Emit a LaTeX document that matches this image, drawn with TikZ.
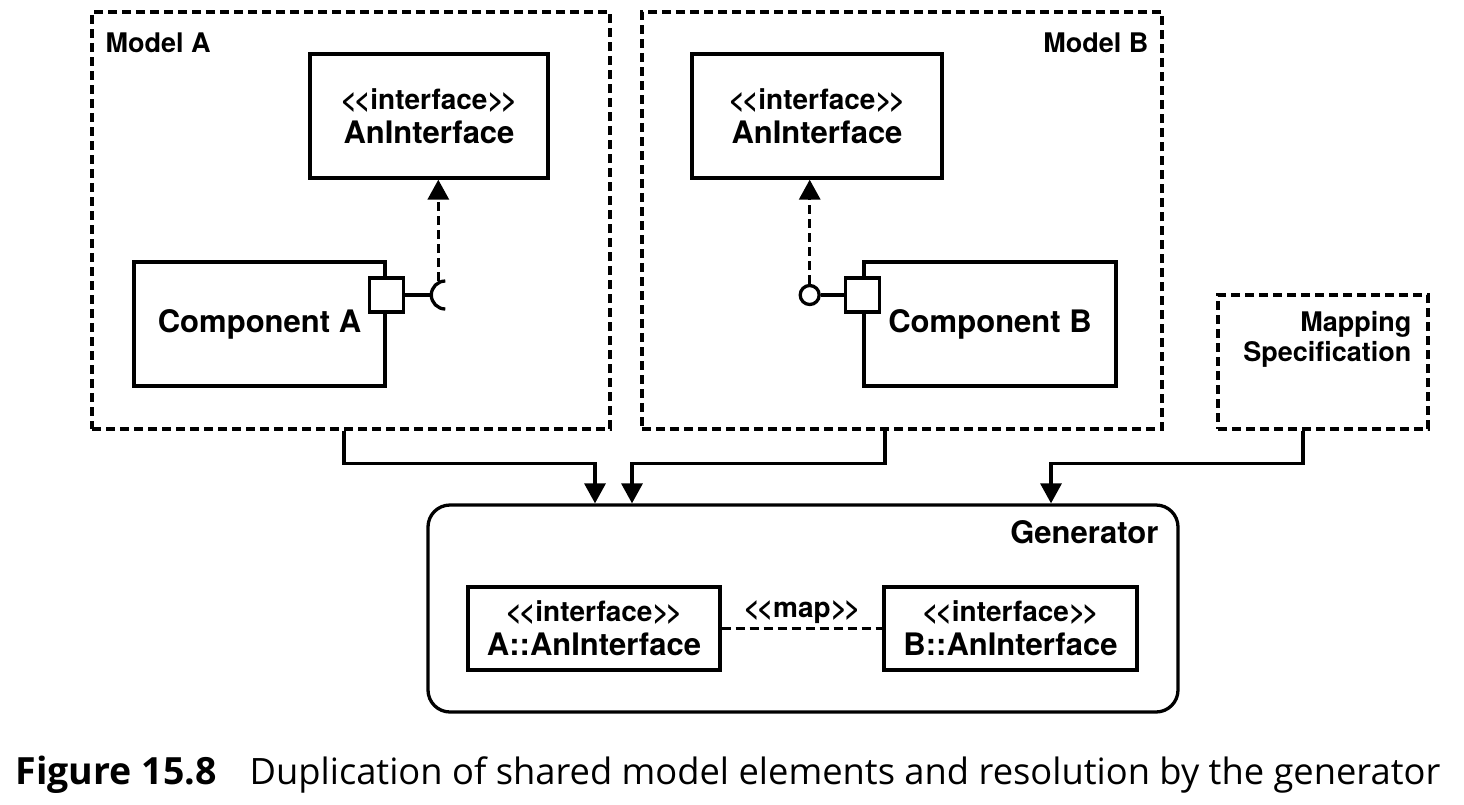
\documentclass[tikz,border=0pt]{standalone}
\usepackage{fontspec}
\setmainfont{TeX Gyre Heros}[Ligatures=TeXOff]
\newfontfamily\capfont{Open Sans}[Ligatures=TeXOff]
\usetikzlibrary{arrows.meta,positioning}

\newcommand{\stereo}[1]{{\fontsize{28}{31}\selectfont <\kern-3pt<#1>\kern-3pt>}}

\begin{document}
\begin{tikzpicture}[x=1pt,y=-1pt,line width=3.3pt,font=\bfseries\fontsize{31}{34}\selectfont,
    frame/.style={draw,dash pattern=on 9pt off 5pt,inner sep=0pt},
    box/.style={draw,inner sep=0pt,align=center},
    port/.style={draw,fill=white,minimum size=34pt,inner sep=0pt},
    lolli/.style={draw,fill=white,circle,minimum size=19pt,inner sep=0pt},
    lbl/.style={inner sep=0pt,font=\bfseries\fontsize{27}{30}\selectfont},
    dep/.style={dash pattern=on 9pt off 5pt,-{Triangle[length=20pt,width=21pt]}},
    flow/.style={-{Triangle[length=20pt,width=21pt]}}]
  \useasboundingbox (0,0) rectangle (1464,804);

  % models
  \node[frame,minimum width=518pt,minimum height=417pt] (modelA) at (351,220.5) {};
  \node[frame,minimum width=520pt,minimum height=417pt] (modelB) at (902,220.5) {};
  \node[frame,minimum width=210pt,minimum height=134pt] (mapspec) at (1323,362) {};
  \node[lbl,anchor=north west] at (104,31) {Model A};
  \node[lbl,anchor=north east] at (1150,31) {Model B};
  \node[lbl,anchor=north east,align=right] at (1413,310) {Mapping\\Specification};

  % model A
  \node[box,minimum width=238pt,minimum height=124pt] (ifA) at (429,116) {\stereo{interface}\\AnInterface};
  \node[box,minimum width=251pt,minimum height=124pt] (compA) at (259.5,324) {Component A};
  \node[port] (portA) at ([yshift=29pt]compA.east) {};
  \draw (portA.east) -- ++(26,0) coordinate (sockA);
  \draw (sockA) ++(14,-14) arc (-90:-270:14);
  \coordinate (sockAtop) at ([shift={(7,-14)}]sockA);
  \draw[dep] (sockAtop) -- (sockAtop |- ifA.south);

  % model B
  \node[box,minimum width=250pt,minimum height=124pt] (ifB) at (817,116) {\stereo{interface}\\AnInterface};
  \node[box,minimum width=252pt,minimum height=124pt] (compB) at (990,324) {Component B};
  \node[port] (portB) at ([yshift=29pt]compB.west) {};
  \node[lolli] (ballB) at ([xshift=-34pt]portB.west) {};
  \draw (portB.west) -- (ballB.east);
  \draw[dep] (ballB.north) -- (ballB |- ifB.south);

  % generator
  \node[draw,rounded corners=22pt,minimum width=750pt,minimum height=207pt] (gen) at (803,608.5) {};
  \node[inner sep=0pt,anchor=north east] at (1160,519) {Generator};
  \node[box,minimum width=252pt,minimum height=83pt] (genA) at (594,628.5) {\stereo{interface}\\A::AnInterface};
  \node[box,minimum width=253pt,minimum height=83pt] (genB) at (1010.5,628.5) {\stereo{interface}\\B::AnInterface};
  \draw[dash pattern=on 9pt off 5pt] (genA.east) -- (genB.west) node[midway,above=3pt,inner sep=0pt] {\stereo{map}};

  \draw[flow] ([xshift=-7pt]modelA.south) -- ++(0,33) -| ([xshift=-208pt]gen.north);
  \draw[flow] ([xshift=-17pt]modelB.south) -- ++(0,33) -| ([xshift=-171pt]gen.north);
  \draw[flow] ([xshift=-20pt]mapspec.south) -- ++(0,33) -| ([xshift=248pt]gen.north);

  % caption
  \node[anchor=base west,inner sep=0pt,font=\capfont\bfseries\fontsize{37.5}{44}\selectfont] (capnum) at (14,784) {Figure 15.8};
  \node[anchor=base west,inner sep=0pt,font=\capfont\fontsize{36.3}{44}\selectfont] (captext) at (248,784)
    {Duplication of shared model elements and resolution by the generator};
\end{tikzpicture}
\end{document}
